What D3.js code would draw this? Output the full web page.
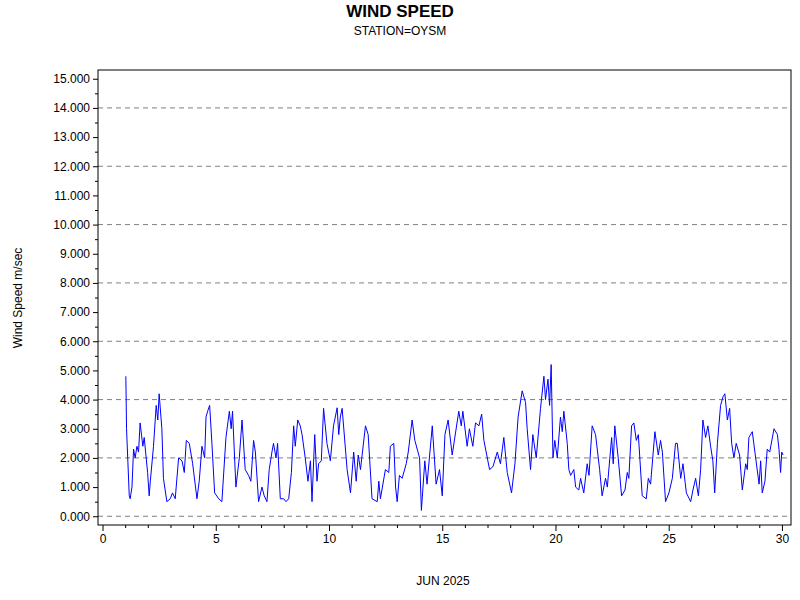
<!DOCTYPE html>
<html>
<head>
<meta charset="UTF-8">
<script src="https://cdn.jsdelivr.net/npm/d3@7"></script>
<style>
  body { margin: 0; background: #fff; }
  text { font-family: "Liberation Sans", Arial, sans-serif; }
</style>
</head>
<body>
<svg id="chart" width="800" height="600"></svg>
<script>
// day of month (fractional) and wind speed
var days = [1.03,1.06,1.18,1.22,1.3,1.37,1.44,1.52,1.59,1.66,1.78,1.84,1.99,2.06,2.11,2.25,2.37,2.44,2.5,2.62,2.69,2.84,2.99,3.09,3.21,3.36,3.51,3.61,3.7,3.83,3.98,4.17,4.27,4.39,4.51,4.57,4.64,4.73,4.83,4.95,5.13,5.27,5.45,5.6,5.68,5.74,5.89,6.04,6.16,6.3,6.45,6.55,6.67,6.75,6.89,7.04,7.14,7.26,7.36,7.48,7.55,7.66,7.73,7.85,8.0,8.1,8.22,8.34,8.44,8.51,8.62,8.73,8.81,8.95,9.07,9.18,9.25,9.37,9.47,9.54,9.66,9.76,9.91,10.06,10.2,
  10.36,10.43,10.5,10.58,10.8,10.95,11.09,11.2,11.29,11.39,11.61,11.73,11.9,12.13,12.2,12.27,12.49,12.64,12.71,12.86,12.94,13.01,13.11,13.23,13.41,13.5,13.67,13.79,14.0,14.08,14.23,14.33,14.56,14.73,14.88,15.0,15.12,15.26,15.44,15.73,15.84,15.91,16.1,16.2,16.35,16.47,16.62,16.74,16.84,17.09,17.24,17.43,17.57,17.72,17.87,18.06,18.21,18.35,18.53,18.68,18.75,18.9,19.0,19.15,19.34,19.49,19.56,19.67,19.74,19.81,19.89,19.97,20.08,
  20.22,20.3,20.37,20.52,20.59,20.67,20.81,20.89,21.03,21.11,21.25,21.4,21.48,21.62,21.77,21.95,22.06,22.21,22.29,22.48,22.55,22.62,22.77,22.92,23.07,23.17,23.24,23.36,23.46,23.57,23.66,23.83,24.01,24.1,24.2,24.39,24.54,24.64,24.72,24.86,25.01,25.16,25.3,25.38,25.53,25.63,25.78,25.97,26.07,26.19,26.31,26.41,26.51,26.63,26.73,26.85,26.95,27.03,27.15,27.29,27.4,27.48,27.59,27.69,27.78,27.88,27.98,28.13,28.25,28.4,28.47,28.54,28.69,28.84,28.99,29.06,29.13,29.25,29.35,29.46,29.65,29.8,29.87,29.94,29.99,30.05];
var speeds = [4.8,3.0,0.7,0.6,1.0,2.3,2.0,2.4,2.2,3.2,2.4,2.7,1.5,0.7,1.2,2.4,3.8,3.3,4.2,3.0,1.3,0.5,0.6,0.8,0.6,2.0,1.9,1.5,2.6,2.5,1.8,0.6,1.2,2.4,2.0,3.4,3.6,3.8,2.5,0.8,0.6,0.5,2.7,3.6,3.0,3.6,1.0,2.0,3.3,1.6,1.4,1.2,2.6,2.2,0.5,1.0,0.7,0.5,1.6,2.2,2.5,2.0,2.5,0.6,0.6,0.5,0.6,1.5,3.1,2.4,3.3,3.1,2.8,2.0,1.2,1.9,0.5,2.8,1.2,1.8,1.9,3.7,2.5,1.9,3.1,
  3.72,2.8,3.4,3.7,1.6,0.8,2.2,1.2,2.1,1.6,3.1,2.8,0.6,0.5,1.2,0.6,1.6,1.5,2.4,2.5,1.0,0.5,1.4,1.3,1.8,2.2,3.3,2.6,2.0,0.2,1.9,1.1,3.1,1.1,1.6,0.7,2.8,3.3,2.1,3.6,3.1,3.6,2.4,3.0,2.4,3.2,3.1,3.5,2.6,1.6,1.7,2.2,1.8,2.7,1.5,0.8,1.8,3.4,4.3,3.9,3.0,1.6,2.8,2.0,3.7,4.8,4.0,4.7,3.8,5.2,2.0,2.6,2.0,
  3.4,2.9,3.6,2.5,1.6,1.4,1.6,1.0,0.9,1.3,0.8,1.8,1.4,3.1,2.8,1.6,0.7,1.3,1.0,2.7,1.8,3.1,2.0,0.7,0.9,1.5,1.3,3.1,3.2,2.6,2.8,0.7,0.6,1.3,1.1,2.9,2.1,2.6,2.2,0.5,0.8,1.3,2.5,2.5,1.3,1.8,0.8,0.5,0.9,1.3,0.7,1.6,3.3,2.7,3.1,2.4,1.9,0.8,2.5,3.8,4.1,4.2,3.3,3.7,2.5,2.0,2.5,2.1,0.9,1.8,1.6,2.7,2.9,2.0,1.1,1.9,0.8,1.2,2.3,2.2,3.0,2.8,2.3,1.5,2.2,2.1];
var xTicks = [0, 5, 10, 15, 20, 25, 30];
var gridValues = [2, 4, 6, 8, 10, 12, 14];

var svg = d3.select('#chart');
var plotL = 98, plotR = 791, plotT = 70, plotB = 525;

var x = d3.scaleLinear().domain([-0.2, 30.4]).range([plotL, plotR]);
var y = d3.scaleLinear().domain([-0.3, 15.3]).range([plotB, plotT]);

svg.append('text').attr('x', 400).attr('y', 17).attr('text-anchor', 'middle')
  .attr('font-size', 17).attr('font-weight', 'bold').text('WIND SPEED');
svg.append('text').attr('x', 400).attr('y', 35).attr('text-anchor', 'middle')
  .attr('font-size', 12).text('STATION=OYSM');

// dashed grid
svg.append('g').selectAll('line').data([0].concat(gridValues)).enter().append('line')
  .attr('x1', plotL).attr('x2', plotR)
  .attr('y1', d => y(d)).attr('y2', d => y(d))
  .attr('stroke', '#808080').attr('stroke-dasharray', '5,4');

var line = d3.line().x((d, i) => x(days[i])).y(d => y(d));
svg.append('path').datum(speeds).attr('d', line)
  .attr('fill', 'none').attr('stroke', '#0000ff').attr('stroke-width', 1);

svg.append('rect').attr('x', plotL).attr('y', plotT)
  .attr('width', plotR - plotL).attr('height', plotB - plotT)
  .attr('fill', 'none').attr('stroke', '#000');

// y axis
var yAxis = d3.axisLeft(y).tickValues(d3.range(0, 16)).tickFormat(d3.format('.3f')).tickSize(5).tickSizeOuter(0);
var yg = svg.append('g').attr('transform', 'translate(' + plotL + ',0)').call(yAxis);
yg.select('.domain').remove();
yg.selectAll('text').attr('font-size', 12).attr('font-family', '"Liberation Sans", Arial, sans-serif').attr('fill', '#000');
svg.append('g').attr('transform', 'translate(' + plotL + ',0)')
  .call(d3.axisLeft(y).tickValues(d3.range(0.5, 15.3, 1)).tickSize(3).tickFormat(''))
  .select('.domain').remove();

// x axis
var xAxis = d3.axisBottom(x).tickValues(xTicks).tickSize(6).tickSizeOuter(0);
var xg = svg.append('g').attr('transform', 'translate(0,' + plotB + ')').call(xAxis);
xg.select('.domain').remove();
xg.selectAll('text').attr('font-size', 12).attr('font-family', '"Liberation Sans", Arial, sans-serif').attr('fill', '#000');
svg.append('g').attr('transform', 'translate(0,' + plotB + ')')
  .call(d3.axisBottom(x).tickValues(d3.range(0, 31).filter(d => d % 5)).tickSize(3).tickFormat(''))
  .select('.domain').remove();

svg.append('text').attr('x', 443).attr('y', 585).attr('text-anchor', 'middle')
  .attr('font-size', 12).text('JUN 2025');
svg.append('text').attr('transform', 'translate(22,298) rotate(-90)').attr('text-anchor', 'middle')
  .attr('font-size', 12).text('Wind Speed m/sec');
</script>
</body>
</html>
